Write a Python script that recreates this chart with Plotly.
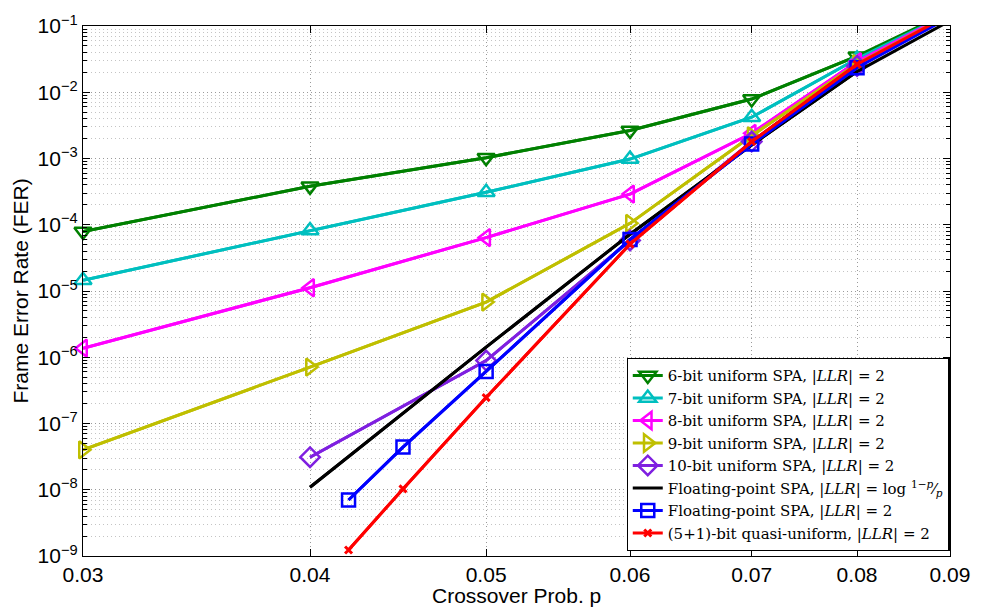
import math
import plotly.graph_objects as go

# ---------------- data ----------------
p_uniform = [0.03, 0.04, 0.05, 0.06, 0.07, 0.08, 0.09]
fer_6bit = [7.9e-5, 3.8e-4, 1.03e-3, 2.65e-3, 7.9e-3, 3.5e-2, 0.165]
fer_7bit = [1.45e-5, 8.2e-5, 3.1e-4, 9.8e-4, 4.2e-3, 3.2e-2, 0.158]
fer_8bit = [1.37e-6, 1.12e-5, 6.4e-5, 2.9e-4, 2.4e-3, 2.9e-2, 0.156]
fer_9bit = [4.0e-8, 7.1e-7, 6.8e-6, 1.05e-4, 2.2e-3, 2.7e-2, 0.15]

p_10bit = [0.04, 0.05, 0.06, 0.07, 0.08, 0.09]
fer_10bit = [3.1e-8, 8.9e-7, 5.8e-5, 1.8e-3, 2.5e-2, 0.14]

p_float_log = [0.04, 0.05, 0.06, 0.07, 0.08, 0.09]
fer_float_log = [1.09e-8, 1.42e-6, 7.2e-5, 1.6e-3, 2.05e-2, 0.12]

p_low = [0.042, 0.045, 0.05, 0.06, 0.07, 0.08, 0.09]
fer_float2 = [7.0e-9, 4.4e-8, 6.1e-7, 6.0e-5, 1.65e-3, 2.35e-2, 0.137]
fer_quasi = [1.23e-9, 1.03e-8, 2.46e-7, 5.1e-5, 1.8e-3, 2.65e-2, 0.149]

x_ticks = [0.03, 0.04, 0.05, 0.06, 0.07, 0.08, 0.09]
x_ticktext = ["0.03", "0.04", "0.05", "0.06", "0.07", "0.08", "0.09"]
y_exps = [-9, -8, -7, -6, -5, -4, -3, -2, -1]

LLR = "|<i>LLR</i>|"
series = [
    ("6-bit uniform SPA, " + LLR + " = 2", p_uniform, fer_6bit, "#008000", "triangle-down-open", 15),
    ("7-bit uniform SPA, " + LLR + " = 2", p_uniform, fer_7bit, "#00BFBF", "triangle-up-open", 15),
    ("8-bit uniform SPA, " + LLR + " = 2", p_uniform, fer_8bit, "#FF00FF", "triangle-left-open", 15),
    ("9-bit uniform SPA, " + LLR + " = 2", p_uniform, fer_9bit, "#BFBF00", "triangle-right-open", 15),
    ("10-bit uniform SPA, " + LLR + " = 2", p_10bit, fer_10bit, "#7F20E0", "diamond-open", 15),
    ("Floating-point SPA, " + LLR + " = log <sup>1−<i>p</i></sup>⁄<sub><i>p</i></sub>", p_float_log, fer_float_log, "#000000", None, 0),
    ("Floating-point SPA, " + LLR + " = 2", p_low, fer_float2, "#0000FF", "square-open", 13),
    ("(5+1)-bit quasi-uniform, " + LLR + " = 2", p_low, fer_quasi, "#FF0000", "x-thin-open", 7),
]

YMAX = 1e-1
fig = go.Figure()
for i, (name, xs, ys, col, sym, sz) in enumerate(series):
    # full line (clipped by the axes)
    fig.add_trace(go.Scatter(
        x=xs, y=ys, mode="lines", line=dict(color=col, width=3),
        showlegend=False, legendgroup=str(i), hoverinfo="skip"))
    xin = [x for x, y in zip(xs, ys) if y <= YMAX]
    yin = [y for y in ys if y <= YMAX]
    if sym is None:
        fig.add_trace(go.Scatter(
            x=xin, y=yin, mode="lines", name=name, legendgroup=str(i),
            line=dict(color=col, width=3)))
    else:
        fig.add_trace(go.Scatter(
            x=xin, y=yin, mode="lines+markers", name=name, legendgroup=str(i),
            line=dict(color=col, width=3), cliponaxis=False,
            marker=dict(symbol=sym, size=sz, color=col,
                        line=dict(color=col, width=2.5 if sym != "x-thin-open" else 3))))

minor_vals = [m * 10.0 ** e for e in range(-9, -1) for m in range(2, 10)]

fig.update_xaxes(
    type="log", range=[math.log10(0.03) - 1e-6, math.log10(0.09) + 1e-6],
    tickmode="array", tickvals=x_ticks, ticktext=x_ticktext,
    showgrid=True, gridcolor="#9a9a9a", griddash="1px,3px", gridwidth=1,
    showline=True, linecolor="black", linewidth=1.2, mirror="allticks",
    ticks="inside", ticklen=7, tickcolor="black", tickwidth=1,
    tickfont=dict(family="Liberation Sans, Arial", size=21, color="black"),
    zeroline=False)
fig.update_yaxes(
    type="log", range=[-9 - 1e-6, -1 + 1e-6],
    tickmode="array", tickvals=[10.0 ** e for e in y_exps],
    ticktext=["10<sup>−%d</sup>" % (-e) for e in y_exps],
    showgrid=True, gridcolor="#9a9a9a", griddash="1px,3px", gridwidth=1,
    showline=True, linecolor="black", linewidth=1.2, mirror="allticks",
    ticks="inside", ticklen=7, tickcolor="black", tickwidth=1,
    tickfont=dict(family="Liberation Sans, Arial", size=21, color="black"),
    minor=dict(tickmode="array", tickvals=minor_vals, ticks="inside", ticklen=4,
               tickcolor="black", showgrid=True, gridcolor="#c4c4c4",
               griddash="1px,3px", gridwidth=1),
    zeroline=False)

fig.update_layout(
    width=982, height=607,
    margin=dict(l=83, r=25, t=24, b=51),
    paper_bgcolor="white", plot_bgcolor="white",
    showlegend=True,
    legend=dict(
        x=0.9995, y=0.0094, xanchor="right", yanchor="bottom",
        bgcolor="white", bordercolor="black", borderwidth=1.2,
        font=dict(family="DejaVu Serif", size=15, color="black"),
        tracegroupgap=0, itemwidth=30, traceorder="normal"),
    annotations=[
        dict(text="Crossover Prob. p", xref="paper", yref="paper", x=0.5, y=0,
             yshift=-26, yanchor="top", xanchor="center", showarrow=False,
             font=dict(family="Liberation Sans, Arial", size=21, color="black")),
        dict(text="Frame Error Rate (FER)", xref="paper", yref="paper", x=0, y=0.5,
             xshift=-50, xanchor="right", yanchor="middle", textangle=-90, showarrow=False,
             font=dict(family="Liberation Sans, Arial", size=21, color="black")),
    ],
)

fig.write_html("out.html")
